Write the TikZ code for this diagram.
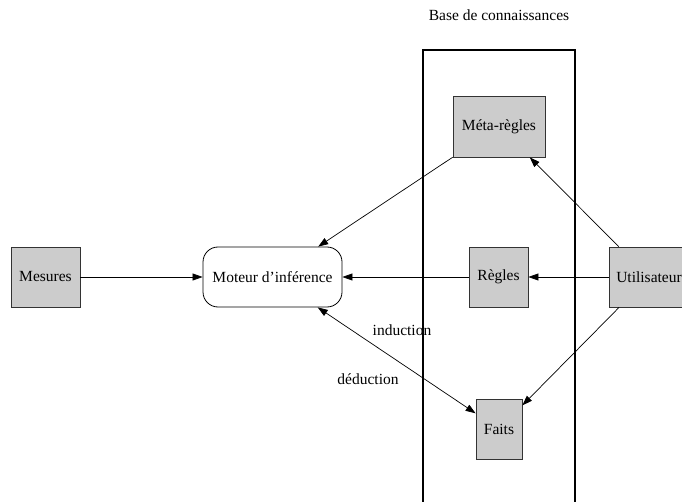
\documentclass[tikz,border=0pt]{standalone}
\usepackage{fontspec}
\setmainfont{Liberation Serif}
\usetikzlibrary{arrows.meta}
\begin{document}
\begin{tikzpicture}[x=1pt,y=-1pt,
  font=\fontsize{15.5}{18}\selectfont,
  graybox/.style={draw=black!80,line width=0.8pt,fill=black!20,inner sep=0pt,minimum height=60pt},
  roundbox/.style={draw=black,line width=0.8pt,rounded corners=15pt,inner sep=0pt,minimum height=60pt},
  conn/.style={line width=0.7pt,-{Triangle[length=10pt,width=7pt]}},
  dconn/.style={line width=0.7pt,{Triangle[length=10pt,width=7pt]}-{Triangle[length=10pt,width=7pt]}},
  lbl/.style={inner sep=0pt}]
\useasboundingbox (0,0) rectangle (682,502);
\clip (0,0) rectangle (682,502);
\node[lbl] (kbtitle) at (499,15) {Base de connaissances};
\draw[line width=2pt] (423,520) -- (423,50) -- (575,50) -- (575,520);
\node[graybox,minimum width=69pt] (mes) at (45.5,277) {Mesures};
\node[roundbox,minimum width=139pt] (mot) at (272.5,277) {Moteur d’inférence};
\node[graybox,minimum width=59pt] (reg) at (498.5,277) {Règles};
\node[graybox,minimum width=92pt,minimum height=61pt] (meta) at (499,126.5) {Méta-règles};
\node[graybox,minimum width=46pt] (faits) at (499,429) {Faits};
\node[graybox,minimum width=80pt] (util) at (649,277) {Utilisateur};
\draw[conn] (mes) -- (mot);
\draw[conn] (reg) -- (mot);
\draw[conn] (util) -- (reg);
\draw[conn] (util) -- (meta);
\draw[conn] (util) -- (faits);
\draw[conn] (meta) -- (mot);
\draw[dconn] (mot) -- (faits);
\node[lbl] (ind) at (402,330) {induction};
\node[lbl] (ded) at (368,379) {déduction};
\end{tikzpicture}
\end{document}
